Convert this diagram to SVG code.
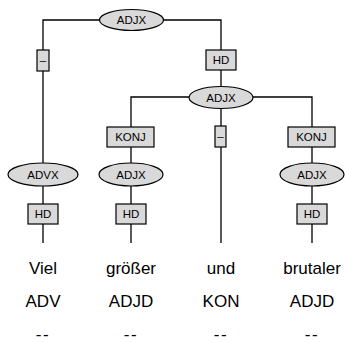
<svg xmlns="http://www.w3.org/2000/svg" width="345" height="343" viewBox="0 0 345 343">
<style>
.e{fill:#d9d9d9;stroke:#000;stroke-width:1.2}
.b{fill:#d9d9d9;stroke:#000;stroke-width:1.2}
.l{font-family:"Liberation Sans",Arial,sans-serif;font-size:11.5px;text-anchor:middle;fill:#000}
.w{font-family:"Liberation Sans",Arial,sans-serif;font-size:17px;text-anchor:middle;fill:#000}
.d{letter-spacing:1.5px}
.c{fill:none;stroke:#000;stroke-width:1.3}
</style>
<rect width="345" height="343" fill="#fff"/>
<g id="connectors">
<path class="c" d="M43,243 V20 H221 V97 M131,243 V97 H312 V243 M221,97 V243"/>
</g>
<g id="n1"><ellipse class="e" cx="131.5" cy="20" rx="32" ry="10.5"/><text class="l" x="131.5" y="24">ADJX</text></g>
<g id="e1"><rect class="b" x="37" y="50" width="12" height="21"/><text class="l" x="43" y="64">–</text></g>
<g id="e2"><rect class="b" x="206" y="50" width="30" height="20"/><text class="l" x="221" y="64">HD</text></g>
<g id="n2"><ellipse class="e" cx="221" cy="97.5" rx="32" ry="11"/><text class="l" x="221" y="101.5">ADJX</text></g>
<g id="e3"><rect class="b" x="107" y="127" width="47" height="20"/><text class="l" x="130.5" y="141">KONJ</text></g>
<g id="e4"><rect class="b" x="215" y="126" width="11" height="21"/><text class="l" x="220.5" y="140">–</text></g>
<g id="e5"><rect class="b" x="288" y="127" width="47" height="20"/><text class="l" x="311.5" y="141">KONJ</text></g>
<g id="n3"><ellipse class="e" cx="43" cy="174.5" rx="35" ry="11.5"/><text class="l" x="43" y="178.5">ADVX</text></g>
<g id="n4"><ellipse class="e" cx="131" cy="174.5" rx="32" ry="11.5"/><text class="l" x="131" y="178.5">ADJX</text></g>
<g id="n5"><ellipse class="e" cx="312" cy="174.5" rx="32" ry="11.5"/><text class="l" x="312" y="178.5">ADJX</text></g>
<g id="e6"><rect class="b" x="28" y="204" width="30" height="20"/><text class="l" x="43" y="218">HD</text></g>
<g id="e7"><rect class="b" x="116" y="204" width="30" height="20"/><text class="l" x="131" y="218">HD</text></g>
<g id="e8"><rect class="b" x="297" y="204" width="30" height="20"/><text class="l" x="312" y="218">HD</text></g>
<g id="t1"><text class="w" x="43" y="274">Viel</text><text class="w" x="43" y="307">ADV</text><text class="w d" x="43" y="340">--</text></g>
<g id="t2"><text class="w" x="131" y="274">größer</text><text class="w" x="131" y="307">ADJD</text><text class="w d" x="131" y="340">--</text></g>
<g id="t3"><text class="w" x="221" y="274">und</text><text class="w" x="221" y="307">KON</text><text class="w d" x="221" y="340">--</text></g>
<g id="t4"><text class="w" x="312" y="274">brutaler</text><text class="w" x="312" y="307">ADJD</text><text class="w d" x="312" y="340">--</text></g>
</svg>
